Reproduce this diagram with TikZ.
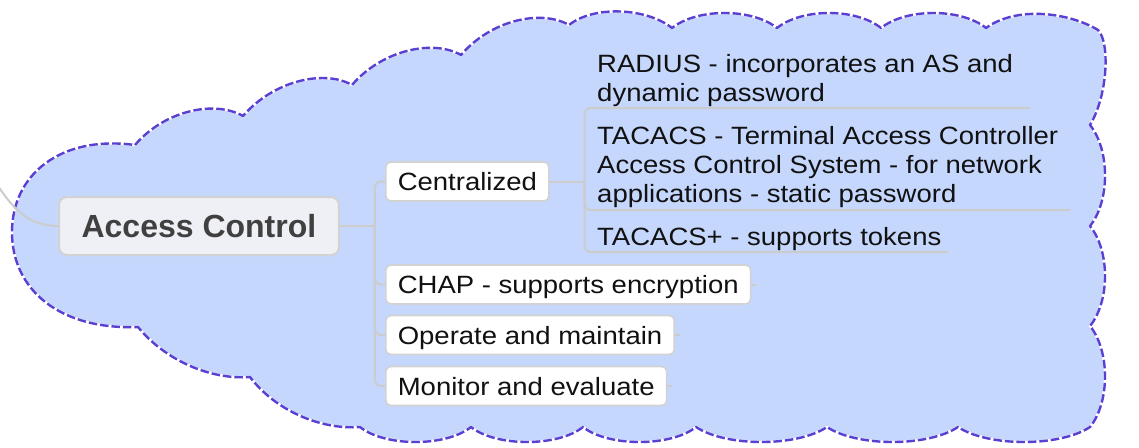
\documentclass[tikz,border=0pt]{standalone}
\usepackage{fontspec}
\newfontfamily\childfont{Liberation Sans}[FakeStretch=1.1]
\newfontfamily\rootfont{Liberation Sans}
\definecolor{cloudfill}{HTML}{C5D7FC}
\definecolor{cloudline}{HTML}{5A3FD3}
\definecolor{lineg}{HTML}{CCCCCC}
\definecolor{boxline}{HTML}{D2D2D2}
\definecolor{rootfill}{HTML}{EFF0F6}
\definecolor{roottxt}{HTML}{404040}
\definecolor{txt}{HTML}{111111}
\tikzset{
  conn/.style={draw=lineg, line width=2pt},
  topicbox/.style={draw=boxline, line width=1.6pt, fill=white, rounded corners=5pt,
    inner xsep=12pt, inner ysep=10.5pt, text height=18pt, text depth=0pt,
    font=\childfont\fontsize{25}{29}\selectfont, text=txt, anchor=west},
  rootbox/.style={draw=boxline, line width=2pt, fill=rootfill, rounded corners=8pt,
    inner xsep=22.6pt, inner ysep=17.5pt, text height=23pt, text depth=0pt,
    font=\rootfont\bfseries\fontsize{32}{36}\selectfont, text=roottxt, anchor=west},
  subtopic/.style={inner sep=0pt, anchor=base west,
    font=\childfont\fontsize{25}{29}\selectfont, text=txt},
  cloudunder/.style={draw=white, line width=2.4pt, line join=round},
  cloudborder/.style={draw=cloudline, line width=2.4pt, line join=round, dash pattern=on 8.5pt off 3pt},
}
\begin{document}
\begin{tikzpicture}[x=1pt,y=-1pt]
\useasboundingbox (0,0) rectangle (1139,447);
% cloud boundary
\def\cloudpath{(135,145)
 .. controls +(30,-35) and +(-28,-16) .. (243,116)
 .. controls +(30,-35) and +(-28,-16) .. (352,85)
 .. controls +(30,-35) and +(-28,-16) .. (461,55)
 .. controls +(30,-35) and +(-28,-16) .. (569,25)
 .. controls +(25,-20) and +(-25,-20) .. (672,28)
 .. controls +(25,-20) and +(-25,-20) .. (777,28)
 .. controls +(25,-20) and +(-25,-20) .. (881,28)
 .. controls +(25,-20) and +(-25,-20) .. (986,28)
 .. controls +(30,-22) and +(-30,-18) .. (1098,30)
 .. controls +(12,12) and +(18,-30) .. (1090,125)
 .. controls +(20,25) and +(20,-25) .. (1090,226)
 .. controls +(20,25) and +(20,-25) .. (1090,326)
 .. controls +(20,25) and +(20,-25) .. (1090,427)
 .. controls +(-30,20) and +(30,20) .. (958,427)
 .. controls +(-30,20) and +(30,20) .. (827,427)
 .. controls +(-30,20) and +(30,20) .. (696,427)
 .. controls +(-25,20) and +(25,20) .. (583,427)
 .. controls +(-25,20) and +(25,20) .. (471,427)
 .. controls +(-25,20) and +(25,20) .. (360,427)
 .. controls (320,430) and (275,410) .. (250,377)
 .. controls (210,380) and (165,360) .. (138,327)
 .. controls (60,330) and (12,290) .. (12,232)
 .. controls (12,175) and (60,135) .. (135,145) -- cycle}
\fill[cloudfill] \cloudpath;
\draw[cloudunder] \cloudpath;
\draw[cloudborder] \cloudpath;

% nodes
\node[rootbox] (root) at (58,226) {Access Control};
\node[topicbox] (cent) at (385,181.5) {Centralized};
\node[topicbox] (chap) at (385,284.5) {CHAP - supports encryption};
\node[topicbox] (oper) at (385,335) {Operate and maintain};
\node[topicbox] (moni) at (385,386) {Monitor and evaluate};

\node[subtopic] (radius) at (597,72) {\parbox[t]{500pt}{RADIUS - incorporates an AS and\\dynamic password}};
\node[subtopic] (tacacs) at (597,144.5) {\parbox[t]{500pt}{TACACS - Terminal Access Controller\\Access Control System - for network\\applications - static password}};
\node[subtopic] (tacplus) at (597,245) {\parbox[t]{500pt}{TACACS+ - supports tokens}};

% connectors
\coordinate (parent) at (-2,186);
\draw[conn] (root.west) .. controls +(-30,0) and +(15,22) .. (parent);

\coordinate (j1) at ([xshift=35pt]root.east);
\draw[conn] (root.east) -- (j1);
\foreach \c in {cent,chap,oper,moni}
  \draw[conn, rounded corners=6pt] (j1) |- (\c.west);

\coordinate (j2) at ([xshift=35pt]cent.east);
\draw[conn] (cent.east) -- (j2);
\coordinate (radiusU) at (1030,108);
\coordinate (tacacsU) at (1070,210);
\coordinate (tacplusU) at (948,252);
\foreach \u in {radiusU,tacacsU,tacplusU}
  \draw[conn, rounded corners=6pt] (j2) |- (\u);

\foreach \c in {chap,oper,moni}
  \draw[conn] (\c.east) -- ++(5,0);
\end{tikzpicture}
\end{document}
